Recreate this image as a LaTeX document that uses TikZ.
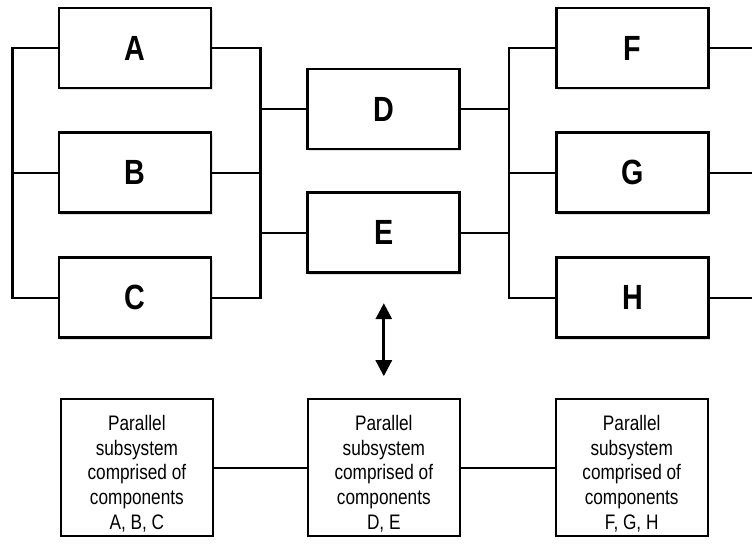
\documentclass[tikz,border=0pt]{standalone}
\usepackage{fontspec}
\setmainfont{Liberation Sans}[FakeStretch=0.82]
\usetikzlibrary{arrows.meta,positioning,shadows,calc}

\begin{document}
\begin{tikzpicture}[
  comp/.style={draw, line width=2.8pt, minimum width=152pt, minimum height=80pt,
    fill=white, font=\fontsize{35}{38}\selectfont\bfseries,
    drop shadow={shadow xshift=1.5pt, shadow yshift=-2.5pt, opacity=0.25}},
  subsys/.style={draw, line width=1.9pt, minimum width=152pt, minimum height=137pt,
    align=center, font=\fontsize{21}{24.8}\selectfont},
  wire/.style={line width=2.2pt},
  link/.style={line width=1.7pt}]
  \useasboundingbox (-135pt,48pt) rectangle (617pt,-500pt);
  % components
  \node[comp] (A) at (0,0) {A};
  \node[comp, below=42pt of A] (B) {B};
  \node[comp, below=42pt of B] (C) {C};
  \node[comp, right=94pt of A, yshift=-61pt] (D) {D};
  \node[comp, below=41pt of D] (E) {E};
  \node[comp, right=94pt of D, yshift=61pt] (F) {F};
  \node[comp, below=42pt of F] (G) {G};
  \node[comp, below=42pt of G] (H) {H};
  % buses
  \coordinate (busL) at ($(A.west)+(-45pt,0)$);
  \coordinate (busM) at ($(A.east)+(48pt,0)$);
  \coordinate (busR) at ($(F.west)+(-46pt,0)$);
  \draw[wire] (A.west) -- (busL) |- (C.west);
  \draw[wire] (B.west) -- (B.west -| busL);
  \draw[wire] (A.east) -- (busM) |- (C.east);
  \draw[wire] (B.east) -- (B.east -| busM);
  \draw[wire] (D.west) -- (D.west -| busM);
  \draw[wire] (E.west) -- (E.west -| busM);
  \draw[wire] (F.west) -- (busR) |- (H.west);
  \draw[wire] (G.west) -- (G.west -| busR);
  \draw[wire] (D.east) -- (D.east -| busR);
  \draw[wire] (E.east) -- (E.east -| busR);
  \foreach \n in {F,G,H}
    \draw[wire] (\n.east) -- ++(50pt,0);
  % subsystems
  \node[subsys, below=124pt of E] (P2) {\rule{0pt}{27pt}Parallel\\subsystem\\comprised of\\components\\D, E};
  \node[subsys, left=93pt of P2] (P1) {\rule{0pt}{27pt}Parallel\\subsystem\\comprised of\\components\\A, B, C};
  \node[subsys, right=94pt of P2] (P3) {\rule{0pt}{27pt}Parallel\\subsystem\\comprised of\\components\\F, G, H};
  \draw[link] (P1) -- (P2);
  \draw[link] (P2) -- (P3);
  % equivalence arrow
  \coordinate (arrTop) at ($(E.south)+(0,-29pt)$);
  \coordinate (arrBot) at ($(P2.north)+(0,22pt)$);
  \draw[line width=3pt, {Triangle[length=16pt,width=16pt]}-{Triangle[length=16pt,width=16pt]}] (arrTop) -- (arrBot);
\end{tikzpicture}
\end{document}
